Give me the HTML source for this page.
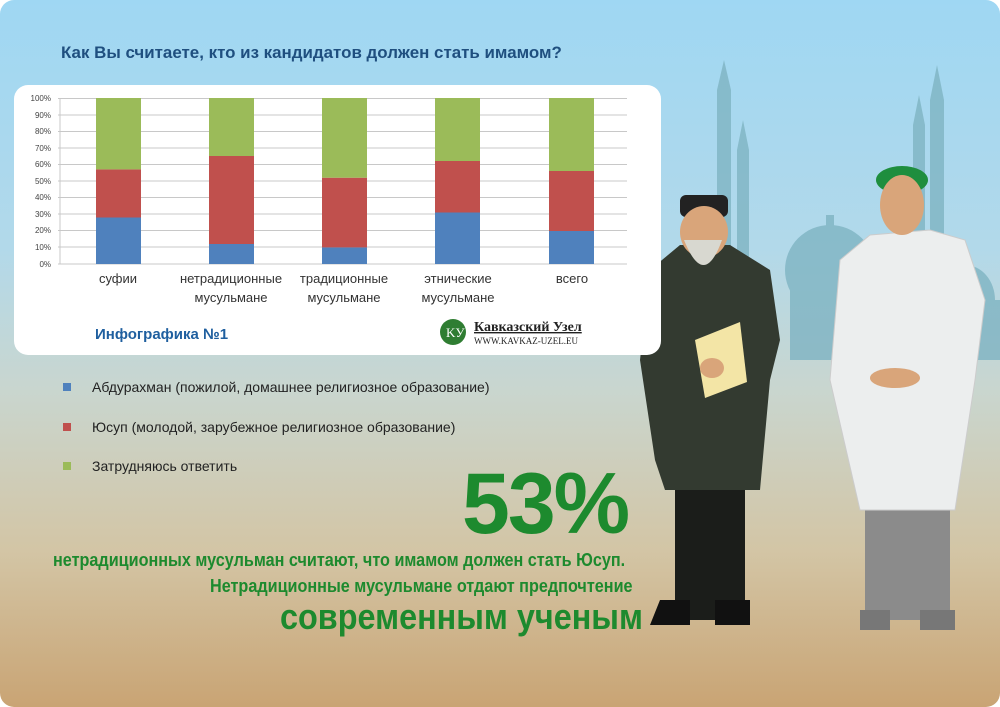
<!DOCTYPE html>
<html><head><meta charset="utf-8"><style>
body{margin:0;width:1000px;height:707px;overflow:hidden;font-family:"Liberation Sans",sans-serif}
.bg{position:absolute;left:0;top:0;width:1000px;height:707px;border-radius:14px;background:linear-gradient(to bottom,#9fd7f3 0%,#b2d9ea 35%,#c9d6cf 55%,#d3c5a5 78%,#c9a474 100%)}
.t{position:absolute;white-space:nowrap}
</style></head><body>
<div class="bg"></div>
<svg width="1000" height="707" style="position:absolute;left:0;top:0">
<g fill="#7fb4c3" opacity="0.8">
<rect x="717" y="90" width="14" height="260"/><polygon points="717,90 724,60 731,90"/>
<rect x="737" y="150" width="12" height="200"/><polygon points="737,150 743,120 749,150"/>
<rect x="913" y="125" width="12" height="230"/><polygon points="913,125 919,95 925,125"/>
<rect x="930" y="100" width="14" height="250"/><polygon points="930,100 937,65 944,100"/>
<ellipse cx="830" cy="270" rx="45" ry="45"/><rect x="790" y="270" width="90" height="90"/>
<rect x="826" y="215" width="8" height="20"/>
<ellipse cx="965" cy="300" rx="30" ry="35"/><rect x="940" y="300" width="60" height="60"/>
</g>
<g>
<rect x="675" y="470" width="70" height="150" fill="#1b1d1a"/>
<path d="M660 600 l30 0 0 25 -40 0z M715 600 l35 0 0 25 -35 0z" fill="#111"/>
<path d="M680 245 L650 270 L640 360 L655 460 L665 490 L760 490 L770 380 L780 340 L770 270 L730 245z" fill="#333a30"/>
<rect x="680" y="195" width="48" height="22" rx="6" fill="#222"/>
<ellipse cx="704" cy="232" rx="24" ry="26" fill="#d9a57a"/>
<path d="M684 240 Q704 290 722 240 Z" fill="#d8d8d0"/>
<polygon points="695,340 740,322 747,382 705,398" fill="#f3e5a6"/>
<ellipse cx="712" cy="368" rx="12" ry="10" fill="#d9a57a"/>
</g>
<g>
<rect x="865" y="490" width="85" height="130" fill="#8b8b8b"/>
<path d="M860 610 l30 0 0 20 -30 0z M920 610 l35 0 0 20 -35 0z" fill="#777"/>
<path d="M870 235 L840 260 L830 380 L860 510 L955 510 L975 380 L985 300 L965 240 L930 230z" fill="#eceeee" stroke="#ccc"/>
<ellipse cx="902" cy="180" rx="26" ry="14" fill="#1e8e3e"/>
<ellipse cx="902" cy="205" rx="22" ry="30" fill="#d9a57a"/>
<ellipse cx="895" cy="378" rx="25" ry="10" fill="#d9a57a"/>
</g>
<rect x="14" y="85" width="647" height="270" rx="14" fill="#fff"/>
<g stroke="#c8c8c8" stroke-width="1">
<line x1="58" y1="98.5" x2="627" y2="98.5"/><line x1="58" y1="115" x2="627" y2="115"/>
<line x1="58" y1="131.5" x2="627" y2="131.5"/><line x1="58" y1="148" x2="627" y2="148"/>
<line x1="58" y1="164.5" x2="627" y2="164.5"/><line x1="58" y1="181" x2="627" y2="181"/>
<line x1="58" y1="197.5" x2="627" y2="197.5"/><line x1="58" y1="214" x2="627" y2="214"/>
<line x1="58" y1="230.5" x2="627" y2="230.5"/><line x1="58" y1="247" x2="627" y2="247"/>
<line x1="58" y1="264" x2="627" y2="264"/><line x1="60" y1="98" x2="60" y2="264"/>
</g>
<g font-size="8" fill="#444" text-anchor="end" font-family="Liberation Sans">
<text x="51" y="101">100%</text><text x="51" y="118">90%</text><text x="51" y="134">80%</text><text x="51" y="151">70%</text><text x="51" y="167">60%</text><text x="51" y="184">50%</text><text x="51" y="200">40%</text><text x="51" y="217">30%</text><text x="51" y="233">20%</text><text x="51" y="250">10%</text><text x="51" y="267">0%</text>
</g>
<g>
<rect x="96" y="217.5" width="45" height="46.5" fill="#4f81bd"/><rect x="96" y="169.4" width="45" height="48.1" fill="#c0504d"/><rect x="96" y="98" width="45" height="71.4" fill="#9bbb59"/>
<rect x="209" y="244" width="45" height="20" fill="#4f81bd"/><rect x="209" y="156" width="45" height="88" fill="#c0504d"/><rect x="209" y="98" width="45" height="58" fill="#9bbb59"/>
<rect x="322" y="247.4" width="45" height="16.6" fill="#4f81bd"/><rect x="322" y="177.7" width="45" height="69.7" fill="#c0504d"/><rect x="322" y="98" width="45" height="79.7" fill="#9bbb59"/>
<rect x="435" y="212.5" width="45" height="51.5" fill="#4f81bd"/><rect x="435" y="161" width="45" height="51.5" fill="#c0504d"/><rect x="435" y="98" width="45" height="63" fill="#9bbb59"/>
<rect x="549" y="231" width="45" height="33" fill="#4f81bd"/><rect x="549" y="171" width="45" height="60" fill="#c0504d"/><rect x="549" y="98" width="45" height="73" fill="#9bbb59"/>
</g>
<g font-size="13" fill="#333" text-anchor="middle" font-family="Liberation Sans">
<text x="118" y="283">суфии</text>
<text x="231" y="283">нетрадиционные</text><text x="231" y="302">мусульмане</text>
<text x="344" y="283">традиционные</text><text x="344" y="302">мусульмане</text>
<text x="458" y="283">этнические</text><text x="458" y="302">мусульмане</text>
<text x="572" y="283">всего</text>
</g>
<circle cx="453" cy="332" r="13" fill="#2f7d32"/>
<text x="446" y="337" font-size="13" fill="#fff" font-family="Liberation Serif">KУ</text>
<text x="474" y="331" font-size="14" font-weight="bold" fill="#222" font-family="Liberation Serif" text-decoration="underline">Кавказский Узел</text>
<text x="474" y="344" font-size="9" fill="#222" font-family="Liberation Serif">WWW.KAVKAZ-UZEL.EU</text>
<text x="95" y="339" font-size="15" font-weight="bold" fill="#1f5f9f" font-family="Liberation Sans">Инфографика №1</text>
<rect x="63" y="383" width="8" height="8" fill="#4f81bd"/>
<rect x="63" y="423" width="8" height="8" fill="#c0504d"/>
<rect x="63" y="462" width="8" height="8" fill="#9bbb59"/>
</svg>
<div class="t" style="left:61px;top:43px;font-size:17px;font-weight:bold;color:#1f4f7f;transform:scaleX(0.995);transform-origin:left">Как Вы считаете, кто из кандидатов должен стать имамом?</div>
<div class="t" style="left:92px;top:379px;font-size:14px;color:#222">Абдурахман (пожилой, домашнее религиозное образование)</div>
<div class="t" style="left:92px;top:419px;font-size:14px;color:#222">Юсуп (молодой, зарубежное религиозное образование)</div>
<div class="t" style="left:92px;top:458px;font-size:14px;color:#222">Затрудняюсь ответить</div>
<div class="t" style="left:462px;top:455px;font-size:86px;font-weight:bold;color:#1d8a2e;letter-spacing:-2px">53%</div>
<div class="t" style="left:53px;top:550px;font-size:18px;font-weight:bold;color:#1d8a2e;transform:scaleX(0.9);transform-origin:left">нетрадиционных мусульман считают, что имамом должен стать Юсуп.</div>
<div class="t" style="left:210px;top:576px;font-size:18px;font-weight:bold;color:#1d8a2e;transform:scaleX(0.9);transform-origin:left">Нетрадиционные мусульмане отдают предпочтение</div>
<div class="t" style="left:280px;top:596px;font-size:36px;font-weight:bold;color:#1d8a2e;transform:scaleX(0.9);transform-origin:left">современным ученым</div>
</body></html>
